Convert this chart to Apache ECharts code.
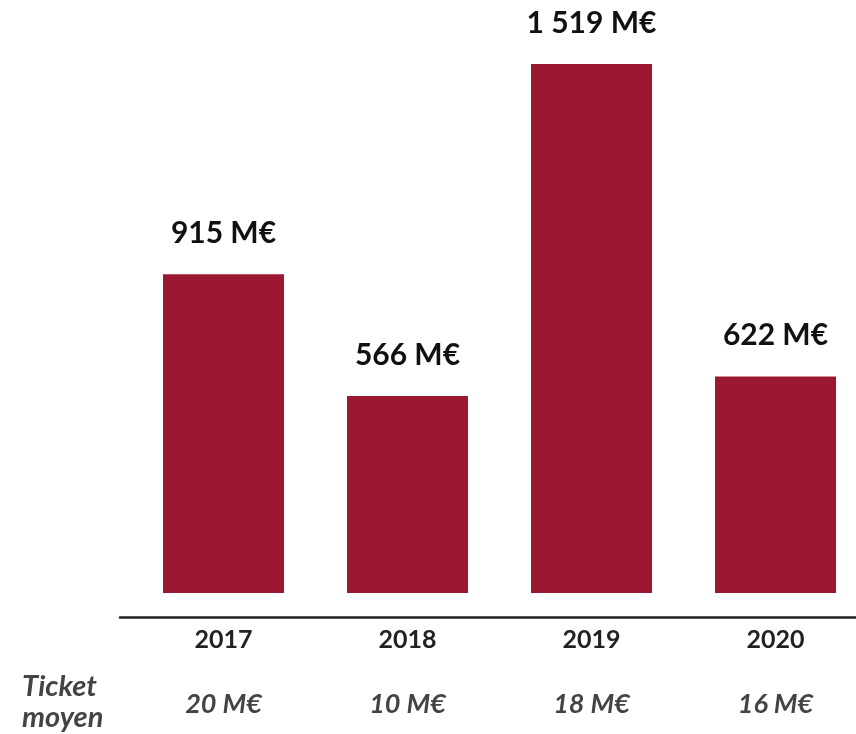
<!DOCTYPE html>
<html>
<head>
<meta charset="utf-8">
<script src="https://cdn.jsdelivr.net/npm/echarts@6/dist/echarts.min.js"></script>
<style>
  html, body { margin: 0; padding: 0; background: #fff; }
  #main { width: 856px; height: 734px; }
</style>
</head>
<body>
<div id="main"></div>
<script>
var years = ['2017', '2018', '2019', '2020'];
var montants = [915, 566, 1519, 622];
var tickets = ['20 M€', '10 M€', '18 M€', '16 M€'];

var chart = echarts.init(document.getElementById('main'));
var font = 'Lato, "DejaVu Sans", sans-serif';

chart.setOption({
  animation: false,
  grid: [
    // barres (la dernière bande dépasse un peu du cadre)
    { left: 131.5, width: 736, top: 35.8, bottom: 141, outerBoundsMode: 'none' },
    // trait de l'axe
    { left: 120, right: 0, top: 35.8, bottom: 141, outerBoundsMode: 'none' }
  ],
  xAxis: [
    {
      type: 'category',
      gridIndex: 0,
      data: years,
      offset: 24,
      axisLine: { show: false },
      axisTick: { show: false },
      axisLabel: {
        margin: 10,
        color: '#222',
        fontFamily: font,
        fontWeight: 'bold',
        fontSize: 25
      }
    },
    {
      type: 'category',
      gridIndex: 0,
      position: 'bottom',
      data: tickets,
      offset: 98,
      axisLine: { show: false },
      axisTick: { show: false },
      axisLabel: {
        margin: 0,
        color: '#444',
        fontFamily: font,
        fontWeight: 'bold',
        fontStyle: 'italic',
        fontSize: 27
      }
    },
    {
      type: 'category',
      gridIndex: 1,
      data: years,
      offset: 24,
      axisLine: { show: true, onZero: false, lineStyle: { color: '#222', width: 2.5 } },
      axisTick: { show: false },
      axisLabel: { show: false }
    }
  ],
  yAxis: [
    { type: 'value', gridIndex: 0, min: 0, max: 1600, show: false },
    { type: 'value', gridIndex: 1, min: 0, max: 1600, show: false }
  ],
  series: [
    {
      type: 'bar',
      xAxisIndex: 0,
      yAxisIndex: 0,
      data: montants,
      barWidth: 121,
      itemStyle: { color: '#9c1830' },
      label: {
        show: true,
        position: 'top',
        distance: 26,
        color: '#111',
        fontFamily: font,
        fontWeight: 'bold',
        fontSize: 30,
        formatter: function (p) {
          var v = p.value;
          var s = v >= 1000 ? Math.floor(v / 1000) + ' ' + String(v % 1000).padStart(3, '0') : String(v);
          return s + ' M€';
        }
      }
    }
  ],
  graphic: [
    {
      type: 'text',
      left: 22,
      top: 671,
      style: {
        text: 'Ticket\nmoyen',
        fill: '#444',
        font: 'italic bold 29px ' + font,
        lineHeight: 31,
        align: 'center'
      }
    }
  ]
});
</script>
</body>
</html>
